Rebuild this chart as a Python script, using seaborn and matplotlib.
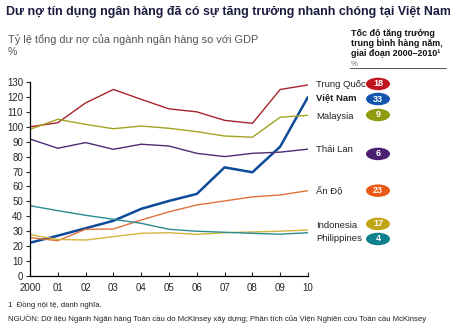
import matplotlib
matplotlib.use("Agg")
import matplotlib.pyplot as plt
from matplotlib.patches import Ellipse
import seaborn as sns
import pandas as pd

years = [2000, 2001, 2002, 2003, 2004, 2005, 2006, 2007, 2008, 2009, 2010]
year_labels = ["2000", "01", "02", "03", "04", "05", "06", "07", "08", "09", "10"]

trung_quoc = [100, 102.7, 116, 125, 118.4, 112, 110, 104.3, 102.3, 125, 128]
viet_nam = [22.3, 27, 32, 37, 45, 50.3, 55, 72.8, 69.5, 86.7, 120]
malaysia = [98.3, 105, 101.6, 98.7, 100.5, 99, 96.7, 93.8, 93, 106.4, 107.7]
thai_lan = [91.8, 85.6, 89.4, 84.9, 88.3, 87.1, 82.2, 80, 82.2, 83, 85]
an_do = [25.7, 23.7, 31.3, 31.5, 37.5, 43, 47.6, 50.3, 53, 54.3, 57.2]
indonesia = [27.7, 24.5, 24.1, 26.4, 28.6, 29, 27.9, 29, 29.5, 30, 30.8]
philippines = [47.1, 43.8, 40.7, 38, 35.3, 31.3, 30, 29.3, 28.6, 28, 29]

countries = ["Trung Quốc", "Việt Nam", "Malaysia", "Thái Lan", "Ấn Độ", "Indonesia", "Philippines"]
growth = ["18", "33", "9", "6", "23", "17", "4"]
series = [trung_quoc, viet_nam, malaysia, thai_lan, an_do, indonesia, philippines]

line_colors = ["#a8232c", "#0d4b9a", "#a3a322", "#4e2c73", "#e0713a", "#d2b43a", "#2a8a92"]
badge_colors = ["#c0141f", "#1556ad", "#8f9a0f", "#4a1f70", "#ea5a14", "#c2a516", "#11808d"]
label_y = [128.5, 119.5, 107.2, 84.9, 57.2, 33.7, 24.8]
badge_y = [128.7, 118.6, 107.9, 81.8, 57.2, 34.9, 24.8]
line_w = [1.0, 1.8, 1.0, 1.0, 1.0, 1.0, 1.0]

rows = []
for c, vals in zip(countries, series):
    for yr, v in zip(years, vals):
        rows.append({"year": yr, "value": v, "country": c})
df = pd.DataFrame(rows)

sns.set_style("white")
plt.rcParams["font.family"] = ["Liberation Sans", "DejaVu Sans"]

fig = plt.figure(figsize=(4.5, 3.27), dpi=100)
ax = fig.add_axes([30 / 450, 1 - 276 / 327, 278 / 450, 194 / 327])

for c, col, lw in zip(countries, line_colors, line_w):
    sns.lineplot(data=df[df["country"] == c], x="year", y="value", color=col,
                 linewidth=lw, ax=ax, legend=False)

ax.set_xlim(2000, 2010)
ax.set_ylim(0, 130)
ax.set_xticks(years)
ax.set_xticklabels(year_labels)
ax.set_yticks(range(0, 131, 10))
ax.set_xlabel("")
ax.set_ylabel("")
for s in ["top", "right"]:
    ax.spines[s].set_visible(False)
for s in ["left", "bottom"]:
    ax.spines[s].set_color("#000000")
    ax.spines[s].set_linewidth(0.9)
ax.tick_params(axis="y", direction="out", length=3, width=0.8, labelsize=7, pad=2, left=True)
ax.tick_params(axis="x", direction="in", length=3, width=0.8, labelsize=7, pad=5, bottom=True)

inv = fig.transFigure.inverted()
for c, g, bc, ly, by in zip(countries, growth, badge_colors, label_y, badge_y):
    bold = "bold" if c == "Việt Nam" else "normal"
    ax.text(2010.28, ly, c, fontsize=6.8, fontweight=bold, va="center", ha="left",
            color="#222222", clip_on=False)
    yfig = inv.transform(ax.transData.transform((2010, by)))[1]
    e = Ellipse((378 / 450, yfig), 24 / 450, 12.5 / 327, transform=fig.transFigure,
                facecolor=bc, edgecolor="none")
    fig.patches.append(e)
    fig.text(378 / 450, yfig, g, fontsize=6.5, fontweight="bold", color="white",
             ha="center", va="center")

fig.text(6 / 450, 1 - 12 / 327, "Dư nợ tín dụng ngân hàng đã có sự tăng trưởng nhanh chóng tại Việt Nam",
         fontsize=8.9, fontweight="bold", color="#1b1b3f", va="center", ha="left")
fig.text(8 / 450, 1 - 40 / 327, "Tỷ lệ tổng dư nợ của ngành ngân hàng so với GDP",
         fontsize=7.9, color="#555555", va="center", ha="left")
fig.text(8 / 450, 1 - 52 / 327, "%", fontsize=7.6, color="#555555", va="center", ha="left")

fig.text(351 / 450, 1 - 33 / 327, "Tốc độ tăng trưởng", fontsize=6.4, fontweight="bold",
         color="#111111", va="center", ha="left")
fig.text(351 / 450, 1 - 43 / 327, "trung bình hàng năm,", fontsize=6.4, fontweight="bold",
         color="#111111", va="center", ha="left")
fig.text(351 / 450, 1 - 54 / 327, "giai đoạn 2000–2010¹", fontsize=6.4, fontweight="bold",
         color="#111111", va="center", ha="left")
fig.text(351 / 450, 1 - 64 / 327, "%", fontsize=5.5, color="#666666", va="center", ha="left")
fig.add_artist(plt.Line2D([350 / 450, 446 / 450], [1 - 68 / 327, 1 - 68 / 327],
                          transform=fig.transFigure, color="#555555", linewidth=0.7))

fig.text(8 / 450, 1 - 305 / 327, "1  Đồng nội tệ, danh nghĩa.", fontsize=5.6,
         color="#222222", va="center", ha="left")
fig.text(8 / 450, 1 - 318 / 327,
         "NGUỒN: Dữ liệu Ngành Ngân hàng Toàn cầu do McKinsey xây dựng; Phân tích của Viện Nghiên cứu Toàn cầu McKinsey",
         fontsize=5.6, color="#222222", va="center", ha="left")

fig.savefig("out.png", dpi=100)
